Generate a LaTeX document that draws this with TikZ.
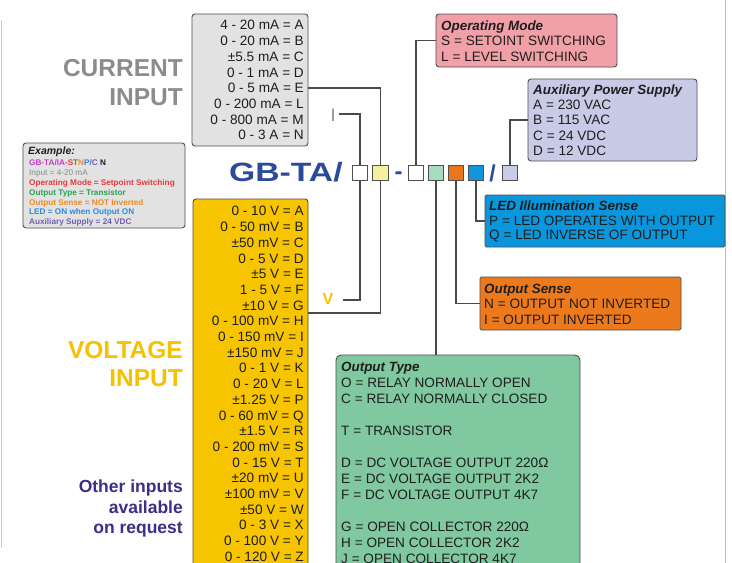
\documentclass[tikz,border=0pt]{standalone}
\usepackage{fontspec}
\setmainfont{Liberation Sans}
\usetikzlibrary{calc}
\definecolor{titleblue}{HTML}{2B4A9B}
\definecolor{curgray}{HTML}{8C8C8C}
\definecolor{voltyel}{HTML}{F5C100}
\definecolor{otherblue}{HTML}{3B2F86}
\definecolor{boxgray}{HTML}{E2E2E2}
\definecolor{boxline}{HTML}{4F4F4F}
\definecolor{volfill}{HTML}{F7C400}
\definecolor{volline}{HTML}{5A4A20}
\definecolor{opfill}{HTML}{F2A0A8}
\definecolor{auxfill}{HTML}{C9CBE6}
\definecolor{ledfill}{HTML}{0A96DC}
\definecolor{osfill}{HTML}{EC7A1C}
\definecolor{otfill}{HTML}{80C8A0}
\definecolor{sylw}{HTML}{F4F0A0}
\definecolor{sgrn}{HTML}{A8DCC0}
\definecolor{sorg}{HTML}{E8761C}
\definecolor{sblu}{HTML}{1394DC}
\definecolor{slav}{HTML}{C8CCE8}
\definecolor{txt}{HTML}{1E1E1E}
\definecolor{conncol}{HTML}{4A4A4A}
\definecolor{exmag}{HTML}{C040C0}
\definecolor{exred}{HTML}{E8383C}
\definecolor{exgrn}{HTML}{2AA050}
\definecolor{exorg}{HTML}{F08A20}
\definecolor{exblu}{HTML}{2A8AE0}
\definecolor{expur}{HTML}{7060B0}
\definecolor{exgray}{HTML}{8A8A8A}
\begin{document}
\begin{tikzpicture}[x=1pt,y=-1pt,
  listbox/.style={draw=boxline, line width=0.9pt, rounded corners=3pt, inner sep=0pt},
  codebox/.style={draw=boxline, line width=0.9pt, minimum width=15.5pt, minimum height=15.5pt, inner sep=0pt},
  conn/.style={draw=conncol, line width=1.1pt},
  rtext/.style={anchor=base east, inner sep=0pt, text=txt, font=\fontsize{13.6}{15}\selectfont},
  ltext/.style={anchor=base west, inner sep=0pt, text=txt, font=\fontsize{13.6}{15}\selectfont},
  ttext/.style={anchor=base west, inner sep=0pt, text=txt, font=\fontsize{13.4}{15}\selectfont\bfseries\itshape},
  bigword/.style={anchor=base east, inner sep=0pt, font=\fontsize{24.5}{28}\selectfont\bfseries},
  extext/.style={anchor=base west, inner sep=0pt, font=\fontsize{8.2}{9}\selectfont\bfseries}
]
\useasboundingbox (0,0) rectangle (732,563);
\clip (0,0) rectangle (732,563);
\fill[white] (0,0) rectangle (732,563);
\draw[line width=1pt, draw=slav] (1.5,20) -- (1.5,548);
\draw[line width=0.8pt, draw=black!25] (725.5,0) -- (725.5,563);

% big labels
\node[bigword, text=curgray] (curw1) at (183,76.8) {CURRENT};
\node[bigword, text=curgray] (curw2) at (183,105.8) {INPUT};
\node[bigword, text=voltyel] (volw1) at (183,358.8) {VOLTAGE};
\node[bigword, text=voltyel] (volw2) at (183,386.8) {INPUT};
\node[anchor=base east, inner sep=0pt, text=otherblue, font=\fontsize{17.5}{20}\selectfont\bfseries] (oth1) at (183,492.5) {Other inputs};
\node[anchor=base east, inner sep=0pt, text=otherblue, font=\fontsize{17.5}{20}\selectfont\bfseries] (oth2) at (183,513) {available};
\node[anchor=base east, inner sep=0pt, text=otherblue, font=\fontsize{17.5}{20}\selectfont\bfseries] (oth3) at (183,533.5) {on request};

% current input box
\node[listbox, fill=boxgray, minimum width=116pt, minimum height=132pt] (curbox) at (250,80) {};
\foreach \t [count=\i] in {4 - 20 mA = A, 0 - 20 mA = B, ±5.5 mA = C, 0 - 1 mA = D, 0 - 5 mA = E, 0 - 200 mA = L, 0 - 800 mA = M, 0 - 3 A = N}
  \node[rtext] (cur\i) at (304,{29.9+15.7*(\i-1)}) {\t};

% example box
\node[listbox, fill=boxgray, minimum width=162pt, minimum height=85pt] (exbox) at (104,185.5) {};
\node[anchor=base west, inner sep=0pt, text=txt, font=\fontsize{10.5}{12}\selectfont\bfseries\itshape] (ex0) at (28,154) {Example:};
\node[extext] (ex1) at (29,165) {\textcolor{exmag}{GB-TA/IA-}\textcolor{exred}{S}\textcolor{exgrn}{T}\textcolor{exorg}{N}\textcolor{exblu}{P}\textcolor{expur}{/C} \textcolor{txt}{N}};
\node[extext, font=\fontsize{8.2}{9}\selectfont, text=exgray] (ex2) at (29,175) {Input = 4-20 mA};
\node[extext, text=exred] (ex3) at (29,185.8) {Operating Mode = Setpoint Switching};
\node[extext, text=exgrn] (ex4) at (29,195.2) {Output Type = Transistor};
\node[extext, text=exorg] (ex5) at (29,205) {Output Sense = NOT Inverted};
\node[extext, text=exblu] (ex6) at (29,214.4) {LED = ON when Output ON};
\node[extext, text=expur] (ex7) at (29,224) {Auxiliary Supply = 24 VDC};

% voltage input box
\node[listbox, fill=volfill, draw=volline, minimum width=115pt, minimum height=420pt] (vbox) at (250.5,409) {};
\foreach \t [count=\i] in {0 - 10 V = A, 0 - 50 mV = B, ±50 mV = C, 0 - 5 V = D, ±5 V = E, 1 - 5 V = F, ±10 V = G, 0 - 100 mV = H, 0 - 150 mV = I, ±150 mV = J, 0 - 1 V = K, 0 - 20 V = L, ±1.25 V = P, 0 - 60 mV = Q, ±1.5 V = R, 0 - 200 mV = S, 0 - 15 V = T, ±20 mV = U, ±100 mV = V, ±50 V = W, 0 - 3 V = X, 0 - 100 V = Y, 0 - 120 V = Z}
  \node[rtext] (vol\i) at (304,{215.9+15.7*(\i-1)}) {\t};

% code line
\node[anchor=base west, inner sep=0pt, text=titleblue, font=\fontsize{26.5}{30}\selectfont\bfseries] (gbta) at (229,181) {\scalebox{1.27}[1]{GB-TA/}};
\node[codebox, fill=white] (wb1) at (360,173) {};
\node[codebox, fill=sylw] (ylw) at (380.5,173) {};
\node[anchor=base, inner sep=0pt, text=titleblue, font=\fontsize{24}{28}\selectfont\bfseries] (dash) at (398.5,179.5) {-};
\node[codebox, fill=white] (wb2) at (416,173) {};
\node[codebox, fill=sgrn] (grn) at (436,173) {};
\node[codebox, fill=sorg] (org) at (456,173) {};
\node[codebox, fill=sblu] (blu) at (476,173) {};
\node[anchor=base, inner sep=0pt, text=titleblue, font=\fontsize{23}{26}\selectfont\bfseries] (slash) at (492.5,181.5) {/};
\node[codebox, fill=slav] (lav) at (510,173) {};

% I / V labels
\node[inner sep=0pt, text=curgray, font=\fontsize{18}{20}\selectfont] (ilab) at (333,115.5) {I};
\node[inner sep=0pt, text=voltyel, font=\fontsize{16}{18}\selectfont\bfseries] (vlab) at (328,299) {V};
\coordinate (itap) at (339,114);
\coordinate (vtap) at (343,300);
\draw[conn] (itap) -| (wb1.north);
\draw[conn] (vtap) -| (wb1.south);

% current / voltage link through yellow box
\coordinate (vboxtap) at (308,313);
\draw[conn] ([yshift=-8pt]curbox.east) -| (ylw.north);
\draw[conn] (ylw.south) |- (vboxtap);

% operating mode
\node[listbox, fill=opfill, minimum width=181pt, minimum height=53pt] (opbox) at (526.5,40.5) {};
\node[ttext] (op0) at (441,30) {Operating Mode};
\node[ltext] (op1) at (441,45.6) {S = SETOINT SWITCHING};
\node[ltext] (op2) at (441,61.3) {L = LEVEL SWITCHING};
\draw[conn] (wb2.north) |- (opbox.west);

% auxiliary power supply
\node[listbox, fill=auxfill, minimum width=169pt, minimum height=82pt] (auxbox) at (612.5,120) {};
\node[ttext] (aux0) at (533,94) {Auxiliary Power Supply};
\node[ltext] (aux1) at (533,109.2) {A = 230 VAC};
\node[ltext] (aux2) at (533,124.7) {B = 115 VAC};
\node[ltext] (aux3) at (533,140.2) {C = 24 VDC};
\node[ltext] (aux4) at (533,155.7) {D = 12 VDC};
\draw[conn] (lav.north) |- (auxbox.west);

% LED illumination sense
\node[listbox, fill=ledfill, rounded corners=1.5pt, minimum width=240pt, minimum height=52pt] (ledbox) at (605,221) {};
\node[ttext] (led0) at (489,210) {LED Illumination Sense};
\node[ltext] (led1) at (489,225.2) {P = LED OPERATES WITH OUTPUT};
\node[ltext] (led2) at (489,239.7) {Q = LED INVERSE OF OUTPUT};
\draw[conn] (blu.south) |- (ledbox.west);

% output sense
\node[listbox, fill=osfill, rounded corners=1.5pt, minimum width=201pt, minimum height=53pt] (osbox) at (580.5,303.5) {};
\node[ttext] (os0) at (484,293.5) {Output Sense};
\node[ltext] (os1) at (484,308.7) {N = OUTPUT NOT INVERTED};
\node[ltext] (os2) at (484,324.2) {I = OUTPUT INVERTED};
\draw[conn] (org.south) |- (osbox.west);

% output type
\node[listbox, fill=otfill, rounded corners=5pt, minimum width=244pt, minimum height=300pt] (otbox) at (458,505) {};
\node[ttext] (ot0) at (341,371.5) {Output Type};
\node[ltext] (ot1) at (341,387.6) {O = RELAY NORMALLY OPEN};
\node[ltext] (ot2) at (341,403.5) {C = RELAY NORMALLY CLOSED};
\node[ltext] (ot3) at (341,435.4) {T = TRANSISTOR};
\node[ltext] (ot4) at (341,467.3) {D = DC VOLTAGE OUTPUT 220Ω};
\node[ltext] (ot5) at (341,483.3) {E = DC VOLTAGE OUTPUT 2K2};
\node[ltext] (ot6) at (341,499.2) {F = DC VOLTAGE OUTPUT 4K7};
\node[ltext] (ot7) at (341,531.1) {G = OPEN COLLECTOR 220Ω};
\node[ltext] (ot8) at (341,547.1) {H = OPEN COLLECTOR 2K2};
\node[ltext] (ot9) at (341,563) {J = OPEN COLLECTOR 4K7};
\draw[conn] (grn.south) -- (grn.south |- otbox.north);
\end{tikzpicture}
\end{document}
